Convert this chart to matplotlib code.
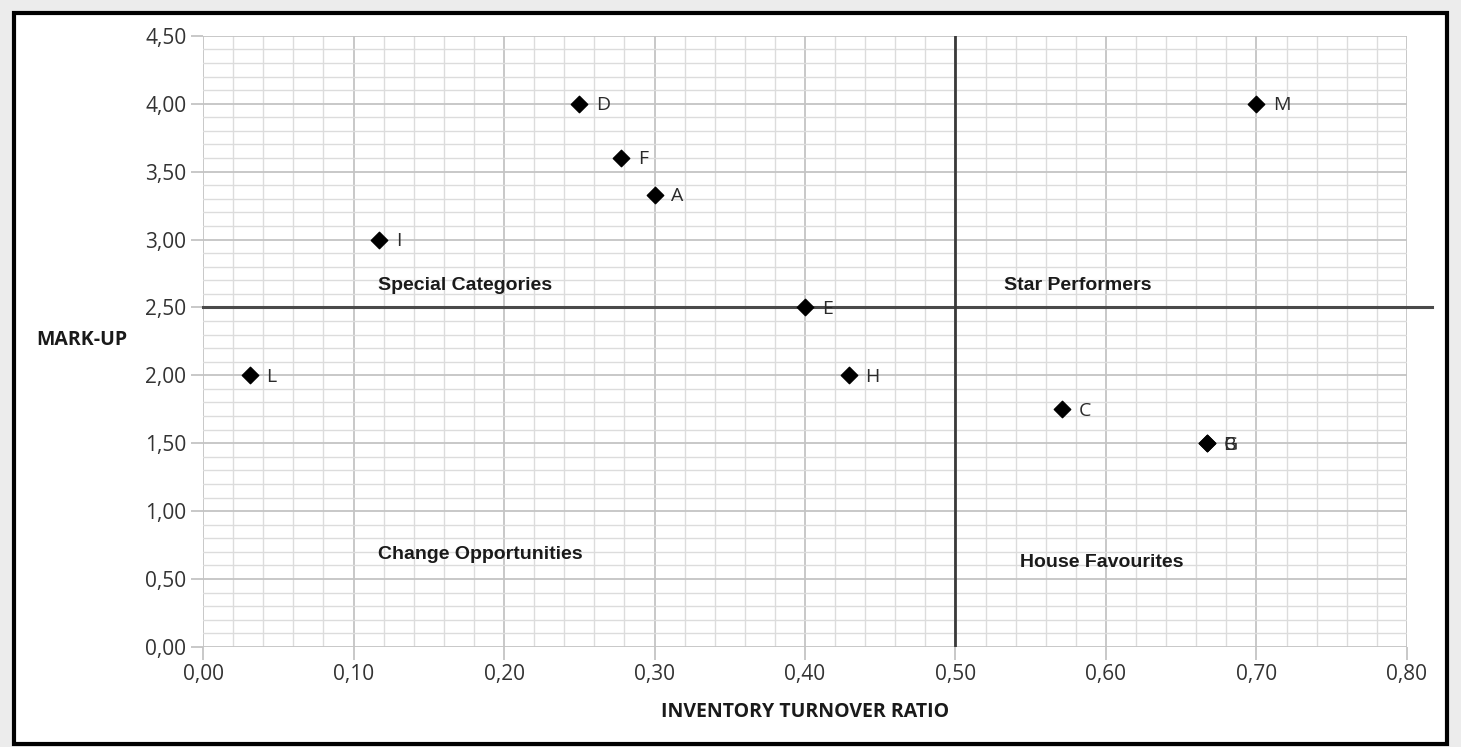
import matplotlib
matplotlib.use('Agg')
import matplotlib.pyplot as plt
from matplotlib.ticker import FuncFormatter, MultipleLocator
from matplotlib.patches import Rectangle

# Data
labels = ['L', 'I', 'D', 'F', 'A', 'E', 'H', 'C', 'B', 'G', 'M']
turnover = [0.031, 0.117, 0.25, 0.278, 0.30, 0.40, 0.429, 0.571, 0.667, 0.667, 0.70]
markup = [2.00, 3.00, 4.00, 3.60, 3.33, 2.50, 2.00, 1.75, 1.50, 1.50, 4.00]

quadrant_names = ['Special Categories', 'Star Performers', 'Change Opportunities', 'House Favourites']
quadrant_x = [0.116, 0.532, 0.116, 0.543]
quadrant_y = [2.66, 2.66, 0.68, 0.62]

x_split = 0.50
y_split = 2.50

fig = plt.figure(figsize=(14.61, 7.47), dpi=100)
fig.patch.set_facecolor('#ececec')

# white panel with black frame
frame = Rectangle((0.0095, 0.004), 0.981, 0.978, transform=fig.transFigure,
                  facecolor='white', edgecolor='black', linewidth=3, zorder=-1)
fig.patches.append(frame)

ax = fig.add_axes([0.139, 0.134, 0.824, 0.818])
ax.set_zorder(2)
ax.set_facecolor('white')

ax.set_xlim(0, 0.80)
ax.set_ylim(0, 4.50)
ax.xaxis.set_major_locator(MultipleLocator(0.10))
ax.xaxis.set_minor_locator(MultipleLocator(0.02))
ax.yaxis.set_major_locator(MultipleLocator(0.50))
ax.yaxis.set_minor_locator(MultipleLocator(0.10))
comma = FuncFormatter(lambda v, pos: f'{v:.2f}'.replace('.', ','))
ax.xaxis.set_major_formatter(comma)
ax.yaxis.set_major_formatter(comma)

ax.grid(which='major', color='#c4c4c4', linewidth=1.3)
ax.grid(which='minor', color='#dcdcdc', linewidth=1.0)
ax.set_axisbelow(True)
for s in ax.spines.values():
    s.set_visible(False)
ax.tick_params(which='major', length=9, color='#c4c4c4', width=1.3,
               labelsize=15, labelcolor='#333333', pad=3)
ax.tick_params(which='minor', length=0)
for t in ax.get_xticklabels() + ax.get_yticklabels():
    t.set_family('Open Sans')

# quadrant dividers
ax.plot([0, 0.8166], [y_split, y_split], color='#4a4a4a', linewidth=2.2, clip_on=False, zorder=2)
ax.plot([x_split, x_split], [0, 4.5], color='#3a3a3a', linewidth=2.0, zorder=2)

ax.scatter(turnover, markup, marker='D', s=70, color='black', zorder=3)
for lab, xv, yv in zip(labels, turnover, markup):
    ax.annotate(lab, (xv, yv), xytext=(12, -1), textcoords='offset points',
                va='center', ha='left', fontsize=14, color='#2a2a2a', family='Open Sans')

for name, qx, qy in zip(quadrant_names, quadrant_x, quadrant_y):
    ax.text(qx, qy, name, fontsize=14, fontweight='bold', color='#1a1a1a',
            family='Liberation Sans', va='center', ha='left')

fig.text(0.025, 0.545, 'MARK-UP', fontsize=14, fontweight='bold', family='Open Sans',
         color='#1a1a1a', va='center', ha='left')
fig.text(0.551, 0.047, 'INVENTORY TURNOVER RATIO', fontsize=14, fontweight='bold',
         family='Open Sans', color='#1a1a1a', va='center', ha='center')

fig.savefig('out.png', dpi=100, facecolor=fig.get_facecolor())
